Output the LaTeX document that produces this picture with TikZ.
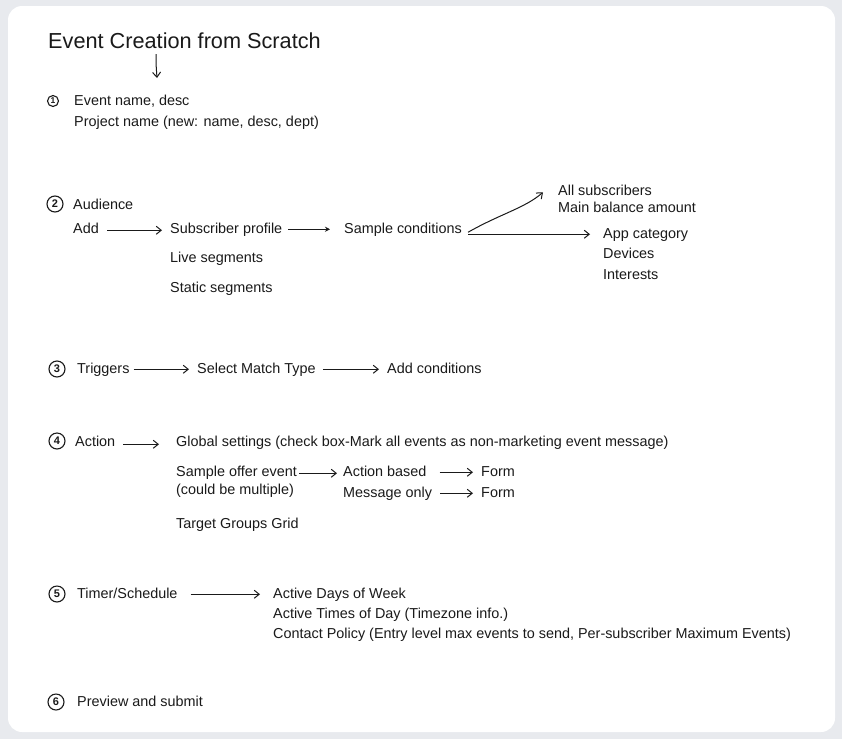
\documentclass[tikz,border=0pt]{standalone}
\usepackage{fontspec}
\setmainfont{Liberation Sans}
\usetikzlibrary{arrows.meta}
\definecolor{bg}{HTML}{E8EAEE}
\definecolor{ink}{HTML}{1A1A1A}
\begin{document}
\begin{tikzpicture}[x=1pt,y=-1pt,
  txt/.style={anchor=base west,inner sep=0pt,text=ink,font=\fontsize{14.4}{16}\selectfont,text height=10.5pt,text depth=3pt},
  num/.style={circle,draw=ink,line width=1.1pt,inner sep=0pt,minimum size=16pt,font=\fontsize{11}{11}\selectfont\bfseries,text=ink},
  arr/.style={draw=ink,line width=1pt,-{Straight Barb[length=5pt,width=8pt]}}]
\fill[bg] (0,0) rectangle (842,739);
\fill[white,rounded corners=14pt] (8,6) rectangle (835,732);
\useasboundingbox (0,0) rectangle (842,739);
% title
\node[txt,font=\fontsize{21.7}{26}\selectfont,text height=15pt] (title) at (48,48) {Event Creation from Scratch};
\coordinate (t1) at (156,54);
\coordinate (t2) at (157,78);
\draw[arr] (t1) .. controls (156,64) .. (t2);
% 1
\node[num,minimum size=11pt,font=\fontsize{8.5}{8.5}\selectfont\bfseries] (n1) at (53,101) {1};
\node[txt] (ev) at (74,105) {Event name, desc};
\node[txt] (pr) at (74,126) {Project name (new: name, desc, dept)};
% 2
\node[num] (n2) at (55,204) {2};
\node[txt] (aud) at (73,209) {Audience};
\node[txt] (add) at (73,233) {Add};
\node[txt] (subp) at (170,233) {Subscriber profile};
\node[txt] (sc) at (344,233) {Sample conditions};
\node[txt] (all) at (558,195) {All subscribers};
\node[txt] (mba) at (558,212) {Main balance amount};
\node[txt] (app) at (603,238) {App category};
\node[txt] (dev) at (603,258) {Devices};
\node[txt] (int) at (603,279) {Interests};
\node[txt] (live) at (170,262) {Live segments};
\node[txt] (stat) at (170,292) {Static segments};
\draw[arr] ([xshift=8pt,yshift=-1pt]add.east) -- ([xshift=-8pt,yshift=-1pt]subp.west);
\draw[draw=ink,line width=1pt,-{Stealth[length=5pt,width=5pt]}] ([xshift=6pt]subp.east) -- ([xshift=-14pt]sc.west);
\draw[arr] ([xshift=6pt,yshift=-3pt]sc.east) .. controls (500,214) and (525,208) .. ([xshift=-15pt,yshift=-1pt]all.west);
\draw[arr] ([xshift=6pt]sc.east |- app.west) -- ([xshift=-13pt]app.west);
% 3
\node[num] (n3) at (57,369) {3};
\node[txt] (trig) at (77,373) {Triggers};
\node[txt] (smt) at (197,373) {Select Match Type};
\node[txt] (addc) at (387,373) {Add conditions};
\draw[arr] ([xshift=4pt]trig.east) -- ([xshift=-8pt]smt.west);
\draw[arr] ([xshift=7pt]smt.east) -- ([xshift=-8pt]addc.west);
% 4
\node[num] (n4) at (57,441) {4};
\node[txt] (act) at (75,446) {Action};
\node[txt] (glob) at (176,446) {Global settings (check box-Mark all events as non-marketing event message)};
\draw[arr] ([xshift=8pt,yshift=-2pt]act.east) -- ([xshift=-17pt,yshift=-2pt]glob.west);
\node[txt] (soe) at (176,476) {Sample offer event};
\node[txt] (cbm) at (176,494) {(could be multiple)};
\node[txt] (ab) at (343,476) {Action based};
\node[txt] (mo) at (343,497) {Message only};
\node[txt] (f1) at (481,476) {Form};
\node[txt] (f2) at (481,497) {Form};
\node[txt] (tgg) at (176,528) {Target Groups Grid};
\draw[arr] ([xshift=2pt,yshift=-1pt]soe.east) -- ([xshift=-6pt,yshift=-1pt]ab.west);
\draw[arr] ([xshift=13pt]ab.east) -- ([xshift=-8pt]f1.west);
\draw[arr] ([xshift=8pt]mo.east) -- ([xshift=-8pt]f2.west);
% 5
\node[num] (n5) at (57,594) {5};
\node[txt] (ts) at (77,598) {Timer/Schedule};
\node[txt] (adw) at (273,598) {Active Days of Week};
\node[txt] (atd) at (273,618) {Active Times of Day (Timezone info.)};
\node[txt] (cp) at (273,638) {Contact Policy (Entry level max events to send, Per-subscriber Maximum Events)};
\draw[arr] ([xshift=13pt]ts.east) -- ([xshift=-13pt]adw.west);
% 6
\node[num] (n6) at (56,702) {6};
\node[txt] (pas) at (77,706) {Preview and submit};
\end{tikzpicture}
\end{document}
